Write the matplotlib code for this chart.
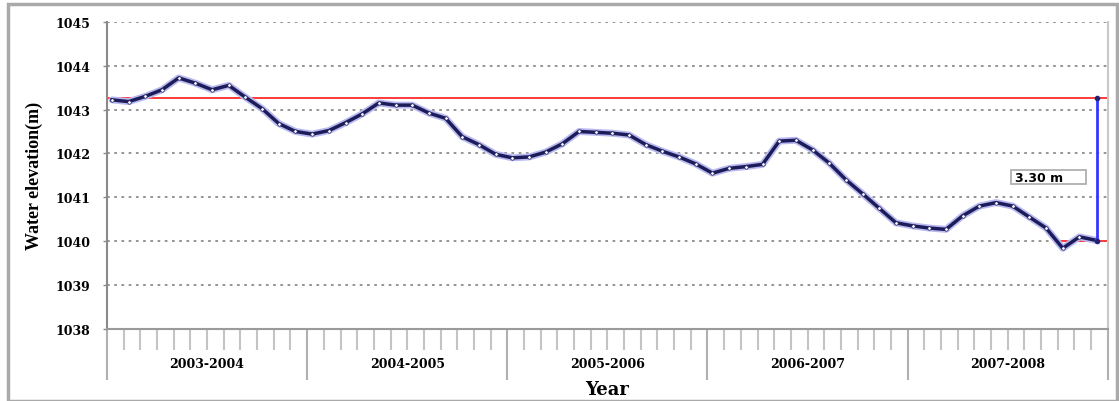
import numpy as np
import matplotlib.pyplot as plt
from matplotlib.patches import Rectangle
import matplotlib.transforms as mtransforms

# monthly water elevation (m), Oct 2003 .. Sep 2008
elevation = [
    1043.22, 1043.18, 1043.30, 1043.45, 1043.72, 1043.60, 1043.45, 1043.55, 1043.28, 1043.02, 1042.68, 1042.50,
    1042.44, 1042.52, 1042.70, 1042.90, 1043.15, 1043.10, 1043.10, 1042.92, 1042.80, 1042.38, 1042.20, 1041.98,
    1041.90, 1041.92, 1042.03, 1042.22, 1042.50, 1042.48, 1042.46, 1042.42, 1042.20, 1042.05, 1041.92, 1041.76,
    1041.55, 1041.66, 1041.70, 1041.75, 1042.28, 1042.30, 1042.08, 1041.78, 1041.40, 1041.08, 1040.75, 1040.42,
    1040.35, 1040.30, 1040.27, 1040.58, 1040.80, 1040.88, 1040.80, 1040.55, 1040.30, 1039.84, 1040.10, 1040.02,
]
years = ["2003-2004", "2004-2005", "2005-2006", "2006-2007", "2007-2008"]
start_level = 1043.30
end_level = 1040.00
drop_label = "3.30 m"

serif_wide = ["DejaVu Serif"]
serif = ["Liberation Serif", "DejaVu Serif"]

fig = plt.figure(figsize=(11.19, 4.02), dpi=100)
ax = fig.add_axes([0.0956, 0.179, 0.8944, 0.7645])

# outer frame
fig.patches.append(Rectangle((8 / 1119, 0), 1109 / 1119, 397 / 402, transform=fig.transFigure,
                             fill=False, edgecolor="#aaaaaa", linewidth=2.5))

x = np.arange(len(elevation)) + 0.3
ax.set_xlim(0, 60)
ax.set_ylim(1038, 1045)

for v in range(1039, 1046):
    ax.axhline(v, color="#8c8c8c", lw=1.3, ls=(0, (1.5, 2.5)), zorder=1)

ax.axhline(start_level - 0.03, color="#ff3b3b", lw=1.4, zorder=2)
ax.plot([56.8, 59.95], [end_level, end_level], color="#ff3b3b", lw=1.4, zorder=2)

ax.plot(x, elevation, color="#b9b9f0", lw=5, zorder=3, solid_capstyle="round")
ax.plot(x, elevation, color="#1c1c5a", lw=2.5, zorder=4, marker="o", ms=2.5,
        mfc="white", mec="#1c1c5a", mew=0.5)

ax.plot([59.35, 59.35], [start_level - 0.03, end_level], color="#3535ff", lw=2, zorder=5)
ax.plot([59.35], [start_level - 0.03], "o", color="#22227a", ms=3, zorder=6)
ax.plot([59.35], [end_level], "o", color="#22227a", ms=3, zorder=6)

# label box for the drop
ax.add_patch(Rectangle((54.2, 1041.30), 4.5, 0.32, fc="white", ec="#b0b0b0", lw=1.3, zorder=6))
ax.text(54.45, 1041.46, drop_label, fontsize=9, fontweight="bold", family="DejaVu Sans",
        ha="left", va="center", zorder=7)

# spines
ax.spines["top"].set_visible(False)
ax.spines["left"].set_color("#8a8a8a")
ax.spines["left"].set_linewidth(1.5)
ax.spines["bottom"].set_color("#9a9a9a")
ax.spines["bottom"].set_linewidth(1.5)
ax.spines["right"].set_color("#c8c8c8")
ax.spines["right"].set_linewidth(1.5)

# y axis
ax.set_yticks(range(1038, 1046))
ax.set_yticklabels([str(v) for v in range(1038, 1046)], fontsize=9, fontweight="bold", family=serif_wide)
ax.tick_params(axis="y", length=3, width=1, color="#8a8a8a", pad=9)
ax.set_ylabel("Water elevation(m)", fontsize=13, fontweight="bold", family=serif, labelpad=9)

# x axis: month ticks and year dividers
ax.set_xticks(range(0, 61, 12))
ax.set_xticklabels([])
ax.set_xticks([m for m in range(61) if m % 12 != 0], minor=True)
ax.tick_params(axis="x", which="major", direction="out", length=37, width=1.5, color="#b0b0b0")
ax.tick_params(axis="x", which="minor", direction="out", length=15, width=1.5, color="#c4c4c4")

trans = mtransforms.blended_transform_factory(ax.transData, fig.transFigure)
for i, yr in enumerate(years):
    ax.text(12 * i + 6, (402 - 365) / 402, yr, transform=trans, ha="center", va="center",
            fontsize=9, fontweight="bold", family=serif_wide)
ax.text(30, (402 - 390) / 402, "Year", transform=trans, ha="center", va="center",
        fontsize=13, fontweight="bold", family=serif_wide)

fig.savefig("out.png", dpi=100)
